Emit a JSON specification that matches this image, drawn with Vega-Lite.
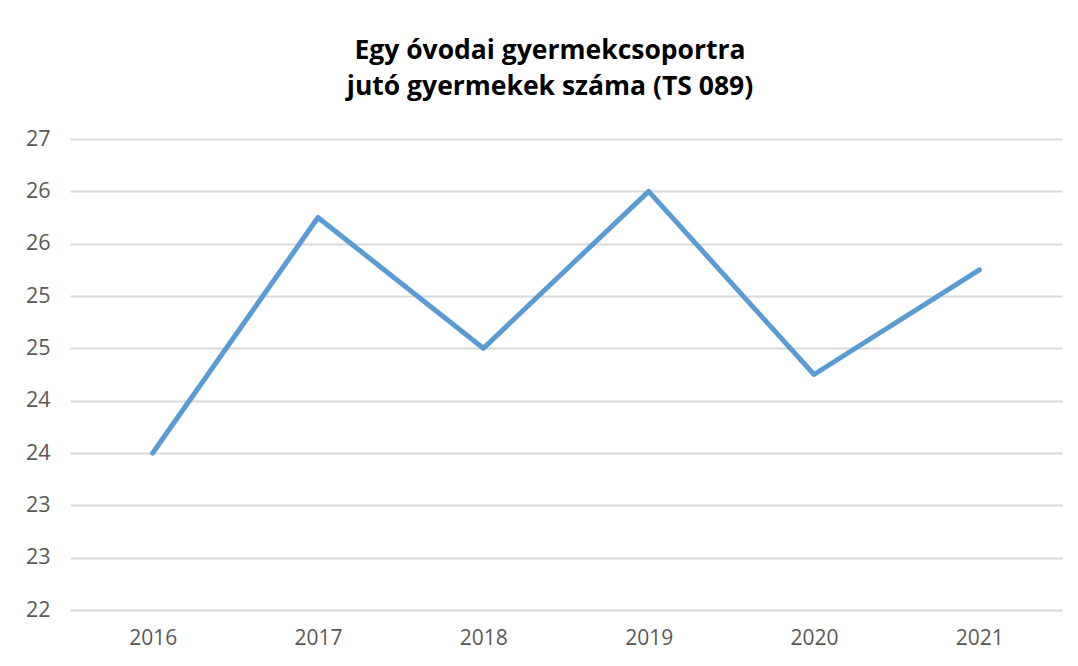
{
  "$schema": "https://vega.github.io/schema/vega-lite/v6.json",
  "width": 992,
  "height": 471,
  "autosize": "none",
  "padding": {"left": 70, "top": 139, "right": 16, "bottom": 56},
  "background": "white",
  "title": {
    "text": ["Egy óvodai gyermekcsoportra", "jutó gyermekek száma (TS 089)"],
    "font": "Open Sans",
    "fontSize": 26.5,
    "fontWeight": "bold",
    "color": "#000000",
    "anchor": "middle",
    "dx": -16,
    "offset": 28,
    "lineHeight": 36
  },
  "data": {
    "values": [
      {"year": "2016", "value": 23.5},
      {"year": "2017", "value": 25.75},
      {"year": "2018", "value": 24.5},
      {"year": "2019", "value": 26.0},
      {"year": "2020", "value": 24.25},
      {"year": "2021", "value": 25.25}
    ]
  },
  "mark": {"type": "line", "color": "#5B9BD5", "strokeWidth": 5, "strokeCap": "round", "strokeJoin": "round"},
  "encoding": {
    "x": {
      "field": "year",
      "type": "ordinal",
      "scale": {"padding": 0.5},
      "axis": {
        "title": null,
        "labelAngle": 0,
        "labelFont": "Open Sans",
        "labelFontSize": 21,
        "labelColor": "#595959",
        "labelPadding": 17,
        "ticks": false,
        "domain": false,
        "grid": false
      }
    },
    "y": {
      "field": "value",
      "type": "quantitative",
      "scale": {"domain": [22, 26.5], "nice": false, "zero": false},
      "axis": {
        "title": null,
        "values": [22, 22.5, 23, 23.5, 24, 24.5, 25, 25.5, 26, 26.5],
        "format": ".0f",
        "labelFont": "Open Sans",
        "labelFontSize": 21.5,
        "labelColor": "#595959",
        "labelPadding": 20,
        "ticks": false,
        "domain": false,
        "grid": true,
        "gridColor": "#d9d9d9",
        "gridWidth": 2
      }
    }
  },
  "config": {"view": {"stroke": null}}
}
